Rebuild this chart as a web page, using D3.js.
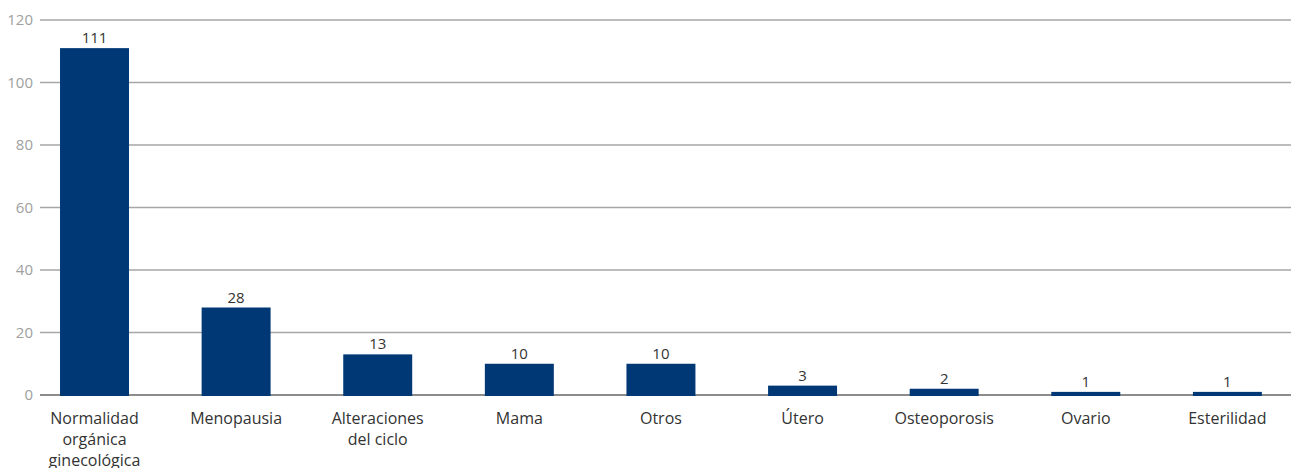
<!DOCTYPE html>
<html><head><meta charset="utf-8">
<script src="https://cdn.jsdelivr.net/npm/d3@7"></script>
<style>body{margin:0;background:#fff}svg{display:block}</style>
</head><body><svg id="c" width="1291" height="468"></svg>
<script>
const categories = [["Normalidad","orgánica","ginecológica"],["Menopausia"],["Alteraciones","del ciclo"],["Mama"],["Otros"],["Útero"],["Osteoporosis"],["Ovario"],["Esterilidad"]];
const values = [111,28,13,10,10,3,2,1,1];
const yTicks = [0,20,40,60,80,100,120];

const svg = d3.select("#c");
const font = "'Open Sans', sans-serif";
const x = d3.scaleBand().domain(d3.range(categories.length)).range([23.7,1298.2]).paddingInner(0.513).paddingOuter(0.2565);
const y = d3.scaleLinear().domain([0,120]).range([395,20]);

// grid
svg.append("g").selectAll("line").data(yTicks).join("line")
  .attr("x1",40).attr("x2",1291).attr("y1",d=>y(d)).attr("y2",d=>y(d))
  .attr("stroke",d=>d===0?"#8c8c8c":"#a6a6a6").attr("stroke-width",d=>d===0?2:1.5);

// y labels
svg.append("g").selectAll("text").data(yTicks).join("text")
  .attr("x",33).attr("y",d=>y(d)).attr("dy","0.35em").attr("text-anchor","end")
  .attr("font-family",font).attr("font-size",15).attr("fill","#a0a0a0").text(d=>d);

// bars
svg.append("g").selectAll("rect").data(values).join("rect")
  .attr("x",(d,i)=>x(i)).attr("width",x.bandwidth())
  .attr("y",d=>y(d)).attr("height",d=>y(0)-y(d)+1).attr("fill","#003876");

// value labels
svg.append("g").selectAll("text").data(values).join("text")
  .attr("x",(d,i)=>x(i)+x.bandwidth()/2).attr("y",d=>y(d)-5).attr("text-anchor","middle")
  .attr("font-family",font).attr("font-size",15).attr("fill","#333").text(d=>d);

// category labels
const cl = svg.append("g").selectAll("text").data(categories).join("text")
  .attr("x",(d,i)=>x(i)+x.bandwidth()/2).attr("y",424).attr("text-anchor","middle")
  .attr("font-family",font).attr("font-size",16).attr("fill","#333");
cl.selectAll("tspan").data(d=>d).join("tspan")
  .attr("x",function(){return d3.select(this.parentNode).attr("x");})
  .attr("dy",(d,i)=>i?21:0).text(d=>d);
</script></body></html>
